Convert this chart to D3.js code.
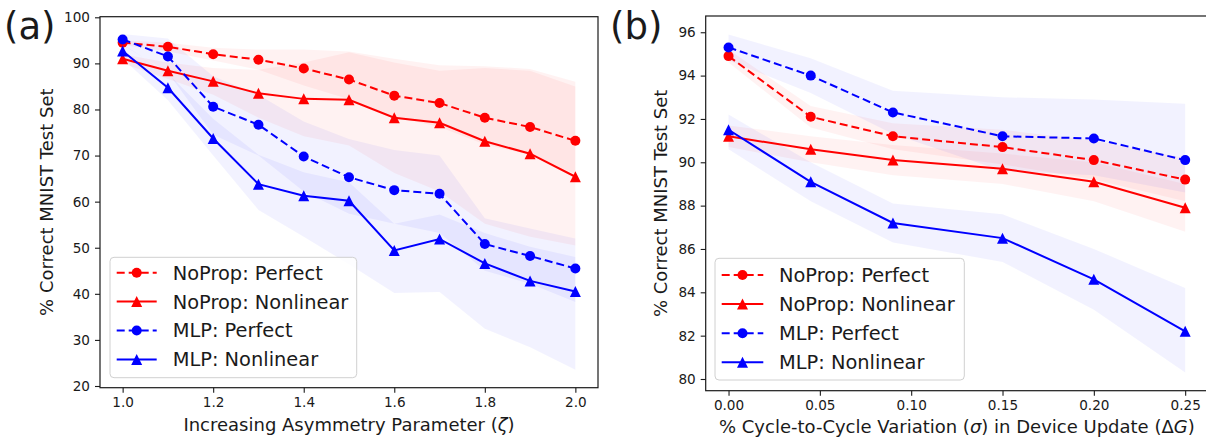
<!DOCTYPE html>
<html>
<head>
<meta charset="utf-8">
<script src="https://cdn.jsdelivr.net/npm/d3@7"></script>
<style>
  body { margin: 0; background: #fff; }
  svg { display: block; font-family: 'DejaVu Sans', sans-serif; }
</style>
</head>
<body>
<svg id="graph" width="1206" height="440"></svg>
<script>
// ---- panel (a): asymmetry parameter
const zeta = [1.0, 1.1, 1.2, 1.3, 1.4, 1.5, 1.6, 1.7, 1.8, 1.9, 2.0]
const aNoPropPerfect = [94.5, 93.6, 92.0, 90.8, 88.9, 86.5, 83.0, 81.4, 78.2, 76.2, 73.2]
const aNoPropPerfectLo = [94.0, 92.6, 90.6, 88.6, 85.2, 82.2, 78.4, 76.2, 72.4, 70.2, 66.0]
const aNoPropPerfectHi = [95.0, 94.5, 93.4, 93.0, 93.0, 92.6, 91.0, 89.6, 89.4, 88.8, 86.0]
const aNoPropNonlinear = [91.0, 88.4, 86.1, 83.5, 82.3, 82.1, 78.2, 77.1, 73.1, 70.4, 65.4]
const aNoPropNonlinearLo = [90.0, 86.6, 83.2, 78.2, 74.2, 72.2, 66.2, 62.2, 55.2, 52.4, 50.5]
const aNoPropNonlinearHi = [92.0, 90.2, 89.0, 88.6, 90.2, 92.4, 90.2, 88.4, 89.0, 88.4, 85.0]
const aMlpPerfect = [95.2, 91.5, 80.6, 76.7, 69.8, 65.3, 62.5, 61.7, 50.8, 48.2, 45.5]
const aMlpPerfectLo = [94.0, 88.0, 74.5, 70.0, 62.2, 57.4, 55.2, 53.2, 45.0, 42.2, 38.2]
const aMlpPerfectHi = [96.4, 95.4, 87.2, 83.2, 77.4, 73.6, 71.2, 70.0, 56.4, 54.2, 52.0]
const aMlpNonlinear = [92.7, 84.7, 73.7, 63.8, 61.3, 60.2, 49.4, 51.9, 46.6, 42.8, 40.5]
const aMlpNonlinearLo = [91.0, 82.0, 70.0, 58.2, 52.4, 46.4, 40.2, 40.4, 32.4, 28.4, 23.5]
const aMlpNonlinearHi = [94.2, 87.8, 78.0, 70.2, 66.4, 64.2, 55.2, 57.2, 53.2, 50.2, 48.0]
const aXTicks = [1.0, 1.2, 1.4, 1.6, 1.8, 2.0]
const aYTicks = [20, 30, 40, 50, 60, 70, 80, 90, 100]

// ---- panel (b): cycle-to-cycle variation
const sigma = [0.0, 0.045, 0.09, 0.15, 0.2, 0.25]
const bNoPropPerfect = [94.9, 92.1, 91.2, 90.7, 90.1, 89.2]
const bNoPropPerfectLo = [94.6, 91.6, 90.6, 89.9, 89.2, 88.2]
const bNoPropPerfectHi = [95.2, 92.6, 91.8, 91.5, 91.0, 90.2]
const bNoPropNonlinear = [91.2, 90.6, 90.1, 89.7, 89.1, 87.9]
const bNoPropNonlinearLo = [90.7, 90.0, 89.4, 89.0, 88.2, 86.8]
const bNoPropNonlinearHi = [91.7, 91.2, 90.8, 90.4, 90.0, 89.0]
const bMlpPerfect = [95.3, 94.0, 92.3, 91.2, 91.1, 90.1]
const bMlpPerfectLo = [94.7, 93.2, 91.3, 89.6, 89.4, 88.6]
const bMlpPerfectHi = [95.9, 94.8, 93.3, 93.0, 92.9, 92.7]
const bMlpNonlinear = [91.5, 89.1, 87.2, 86.5, 84.6, 82.2]
const bMlpNonlinearLo = [90.6, 88.2, 86.3, 85.4, 83.2, 80.3]
const bMlpNonlinearHi = [92.2, 90.0, 88.1, 87.6, 86.0, 84.2]
const bXTicks = [0.0, 0.05, 0.1, 0.15, 0.2, 0.25]
const bYTicks = [80, 82, 84, 86, 88, 90, 92, 94, 96]

const seriesNames = ['NoProp: Perfect', 'NoProp: Nonlinear', 'MLP: Perfect', 'MLP: Nonlinear']

const svg = d3.select('#graph')
const ink = '#1a1a1a'

const makeSeries = (xs, sets) => {
  const styles = [
    { color: '#ff0000', dashed: true, marker: 'circle' },
    { color: '#ff0000', dashed: false, marker: 'triangle' },
    { color: '#0000ff', dashed: true, marker: 'circle' },
    { color: '#0000ff', dashed: false, marker: 'triangle' },
  ]
  return sets.map((s, i) => ({
    name: seriesNames[i],
    ...styles[i],
    data: xs.map((x, j) => ({ x, v: s[0][j], lo: s[1][j], hi: s[2][j] })),
  }))
}

const drawMarker = (g, type, color, cx, cy) => {
  if (type === 'circle') {
    g.append('circle').attr('cx', cx).attr('cy', cy).attr('r', 5).attr('fill', color)
  } else {
    const s = 5.5
    g.append('path')
      .attr('d', `M${cx},${cy - s}L${cx + s},${cy + s}L${cx - s},${cy + s}Z`)
      .attr('fill', color)
  }
}

const drawPanel = (cfg, series) => {
  const { xScale, yScale, xTicks, yTicks, xFormat } = cfg
  const [x0, x1] = xScale.range()
  const [y1, y0] = yScale.range()
  const g = svg.append('g')

  // bands first, very faint like the original
  const area = d3.area()
    .x((d) => xScale(d.x))
    .y0((d) => yScale(d.lo))
    .y1((d) => yScale(d.hi))
  series.forEach((s) => {
    g.append('path').datum(s.data)
      .attr('d', area)
      .attr('fill', s.color)
      .attr('fill-opacity', 0.05)
  })

  const line = d3.line().x((d) => xScale(d.x)).y((d) => yScale(d.v))
  series.forEach((s) => {
    g.append('path').datum(s.data)
      .attr('d', line)
      .attr('fill', 'none')
      .attr('stroke', s.color)
      .attr('stroke-width', 2)
      .attr('stroke-dasharray', s.dashed ? '8,4' : null)
    s.data.forEach((d) => drawMarker(g, s.marker, s.color, xScale(d.x), yScale(d.v)))
  })

  // axes
  const axisX = d3.axisBottom(xScale).tickValues(xTicks).tickFormat(d3.format(xFormat)).tickSize(5).tickPadding(5)
  const axisY = d3.axisLeft(yScale).tickValues(yTicks).tickFormat(d3.format('d')).tickSize(5).tickPadding(5)
  const gx = g.append('g').attr('transform', `translate(0,${y1})`).call(axisX)
  const gy = g.append('g').attr('transform', `translate(${x0},0)`).call(axisY)
  ;[gx, gy].forEach((a) => {
    a.select('.domain').remove()
    a.selectAll('line').attr('stroke', ink).attr('stroke-width', 1.1)
    a.selectAll('text').attr('fill', ink).style('font-size', '13.6px').style('font-family', 'DejaVu Sans')
  })

  g.append('rect')
    .attr('x', x0).attr('y', y0)
    .attr('width', x1 - x0).attr('height', y1 - y0)
    .attr('fill', 'none').attr('stroke', ink).attr('stroke-width', 1.2)

  // labels
  const xl = g.append('text')
    .attr('x', (x0 + x1) / 2).attr('y', cfg.xLabelY)
    .attr('text-anchor', 'middle').attr('fill', ink)
    .style('font-size', '18px')
  cfg.xLabel.forEach((p) => xl.append('tspan').text(p[0]).style('font-style', p[1] ? 'italic' : null))

  g.append('text')
    .attr('transform', `translate(${cfg.yLabelX},${(y0 + y1) / 2}) rotate(-90)`)
    .attr('text-anchor', 'middle').attr('fill', ink)
    .style('font-size', '18px')
    .text('% Correct MNIST Test Set')

  g.append('text')
    .attr('x', cfg.tagX).attr('y', 39)
    .attr('fill', ink).style('font-size', '37px')
    .text(cfg.tag)

  drawLegend(g, series, cfg.legend)
}

const drawLegend = (g, series, box) => {
  const lg = g.append('g')
  lg.append('rect')
    .attr('x', box.x).attr('y', box.y)
    .attr('width', box.w).attr('height', box.h)
    .attr('rx', 4)
    .attr('fill', '#fff').attr('fill-opacity', 0.8)
    .attr('stroke', '#d0d0d0').attr('stroke-width', 1)
  series.forEach((s, i) => {
    const cy = box.y + box.first + i * box.step
    lg.append('line')
      .attr('x1', box.x + 6.7).attr('x2', box.x + 6.7 + box.handle)
      .attr('y1', cy).attr('y2', cy)
      .attr('stroke', s.color).attr('stroke-width', 2)
      .attr('stroke-dasharray', s.dashed ? '8,4' : null)
    drawMarker(lg, s.marker, s.color, box.x + 6.7 + box.handle / 2, cy)
    lg.append('text')
      .attr('x', box.x + box.textX).attr('y', cy).attr('dy', '0.36em')
      .attr('fill', ink).style('font-size', '19.4px')
      .text(s.name)
  })
}

drawPanel({
  xScale: d3.scaleLinear().domain([0.95, 2.05]).range([100, 598]),
  yScale: d3.scaleLinear().domain([19.63, 100.13]).range([387.7, 16.7]),
  xTicks: aXTicks, yTicks: aYTicks, xFormat: '.1f',
  xLabel: [['Increasing Asymmetry Parameter ('], ['ζ', true], [')']],
  xLabelY: 431, yLabelX: 53, tag: '(a)', tagX: 4,
  legend: { x: 110, y: 257.3, w: 246.7, h: 120.4, first: 15.4, step: 28.9, handle: 40, textX: 62.7 },
}, makeSeries(zeta, [
  [aNoPropPerfect, aNoPropPerfectLo, aNoPropPerfectHi],
  [aNoPropNonlinear, aNoPropNonlinearLo, aNoPropNonlinearHi],
  [aMlpPerfect, aMlpPerfectLo, aMlpPerfectHi],
  [aMlpNonlinear, aMlpNonlinearLo, aMlpNonlinearHi],
]))

drawPanel({
  xScale: d3.scaleLinear().domain([-0.0125, 0.2625]).range([705.7, 1208]),
  yScale: d3.scaleLinear().domain([79.46, 96.75]).range([390.7, 16]),
  xTicks: bXTicks, yTicks: bYTicks, xFormat: '.2f',
  xLabel: [['% Cycle-to-Cycle Variation ('], ['σ', true], [') in Device Update (Δ'], ['G', true], [')']],
  xLabelY: 433, yLabelX: 667, tag: '(b)', tagX: 610,
  legend: { x: 715, y: 258.3, w: 249.3, h: 121.7, first: 16.7, step: 29.1, handle: 41.6, textX: 64 },
}, makeSeries(sigma, [
  [bNoPropPerfect, bNoPropPerfectLo, bNoPropPerfectHi],
  [bNoPropNonlinear, bNoPropNonlinearLo, bNoPropNonlinearHi],
  [bMlpPerfect, bMlpPerfectLo, bMlpPerfectHi],
  [bMlpNonlinear, bMlpNonlinearLo, bMlpNonlinearHi],
]))
</script>
</body>
</html>
